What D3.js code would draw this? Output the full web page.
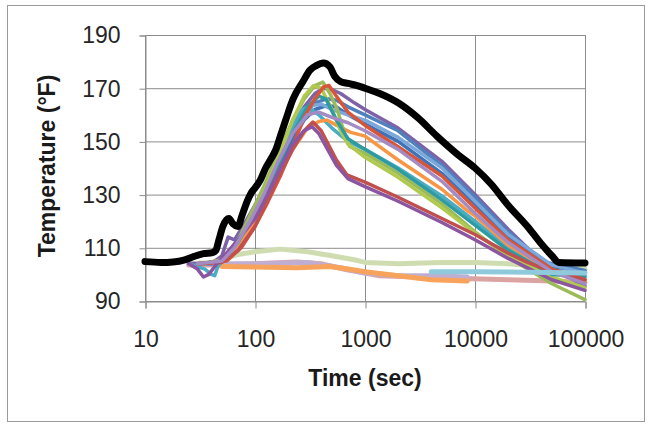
<!DOCTYPE html>
<html>
<head>
<meta charset="utf-8">
<script src="https://cdn.jsdelivr.net/npm/d3@7"></script>
<style>
  body { margin: 0; background: #fff; }
  svg { display: block; }
  text { font-family: "Liberation Sans", Arial, sans-serif; }
</style>
</head>
<body>
<svg id="vis" width="650" height="425"></svg>
<script>
// axis ticks
const xTicks = [10, 100, 1000, 10000, 100000]
const yTicks = [90, 110, 130, 150, 170, 190]

// [time (sec), temperature (F)]
const black = [[10,104.8],[14,104.5],[18,104.7],[23,105.5],[28,106.8],[34,107.8],[41,108.2],[44,109],[47,113],[51,118],[55,120.5],[58,121],[63,119],[70,118],[76,122],[84,127],[92,130.5],[100,132.5],[112,135.5],[125,140],[140,143.5],[155,147],[170,152],[190,158],[222,166],[273,172.5],[316,176.8],[360,178.5],[420,179.5],[480,178],[530,174.5],[600,172.5],[700,171.8],[850,171],[1000,170],[1360,168],[2000,164.5],[3000,159],[4500,152],[7000,145],[10000,140],[14000,134],[20000,126],[30000,118],[40000,111.5],[50000,107],[58000,104.5],[100000,104.3]]

const purpleTop = [[25,104],[40,104],[50,107],[57,114],[65,113],[80,119],[100,126],[130,135],[170,145],[220,155],[280,163],[350,168],[420,170],[500,169.5],[600,168],[800,164.5],[1000,162],[2000,155],[5000,142.5],[10000,130],[20000,117],[40000,105],[100000,95.5]]
const blue1 = [[30,104],[45,104],[60,109],[80,117],[100,124],[130,133],[170,143],[220,153],[280,160],[350,164.5],[450,166],[550,165.5],[700,163],[1000,160],[2000,154],[5000,141],[10000,129],[20000,116],[40000,105],[100000,101.5]]
const blue2 = [[30,104],[45,104.5],[60,108],[80,116],[100,123],[130,132],[170,142],[220,151],[280,158],[350,162],[450,163.5],[550,163],[700,160],[1000,156.5],[2000,150],[5000,138],[10000,126],[20000,114],[50000,103],[100000,101]]
const lightBlue = [[30,104],[50,104.5],[65,110],[90,120],[120,130],[160,141],[220,154],[280,161],[330,163.5],[400,164],[500,162],[700,160],[1000,158],[2000,151.5],[5000,140],[10000,127.5],[20000,115],[50000,103.5],[100000,100.5]]
const aqua = [[25,104],[35,102],[40,100],[43,99.5],[46,103],[55,107],[70,113],[100,124],[130,133],[170,145],[220,156],[270,162],[300,163],[380,160],[500,155],[700,150],[1000,147],[2000,140],[5000,129.5],[10000,120],[20000,110],[50000,101],[100000,99.5]]
const orange = [[30,104],[50,104.5],[70,110],[100,120],[130,129],[170,138],[220,147],[300,155],[380,157.5],[450,158],[730,153.5],[1000,152],[2000,143],[5000,132],[8500,124],[10000,122],[20000,111],[50000,101],[100000,97]]
const green1 = [[30,104],[50,105],[65,110],[90,122],[120,133],[160,145],[220,158],[280,166],[350,171],[414,172.3],[480,168],[560,162],[650,153],[730,148],[1000,145.5],[2000,138],[5000,126.5],[10000,116],[20000,106.5],[50000,96.5],[100000,90.5]]
const green2 = [[35,104],[55,106],[70,112],[100,123],[130,134],[170,146],[220,158],[280,167],[340,171],[400,170],[500,162],[600,154],[700,149],[1000,144],[2000,136.5],[5000,125],[10000,115.5],[20000,107],[50000,99],[100000,95]]
const teal = [[30,104],[50,105],[70,112],[100,123],[130,132],[170,143],[220,153],[300,163],[380,167],[440,166],[550,158],[700,151],[1000,147],[2000,139.5],[5000,128],[10000,118.5],[20000,109],[50000,100],[100000,99]]
const redOrange = [[30,104],[55,105],[75,110],[100,118],[130,127],[170,137],[220,148],[280,159],[350,166],[420,170.5],[470,171],[550,167],[700,161],[1000,156],[2000,148],[5000,137],[10000,125],[20000,113],[50000,102],[100000,98]]
const red = [[30,104],[50,104.5],[70,109],[100,118],[130,128],[170,138],[220,147],[280,154],[336,157.3],[400,154],[550,143],[685,137.4],[1000,134.7],[2000,129],[5000,121],[10000,115],[20000,108],[30000,104.5],[50000,101],[100000,98]]
const purple = [[25,104],[30,102],[34,99],[38,100],[45,104],[55,108],[70,113],[100,121],[130,130],[170,140],[220,149],[280,154],[330,155.5],[380,153],[550,141],[700,136],[1000,133],[2000,127.5],[5000,119.5],[10000,113],[20000,106],[50000,98],[100000,94]]
const violet = [[30,104],[50,105],[65,110],[90,120],[120,130],[160,142],[220,153],[300,160],[380,161],[500,159],[700,157],[1000,154],[2000,147],[5000,135],[10000,123],[20000,112],[50000,101],[100000,96.5]]

const paleGreen = [[25,104],[40,104.5],[50,105.5],[70,107.5],[100,108.5],[170,109.5],[300,108.5],[500,107],[800,105.5],[1000,104.5],[2000,104],[5000,104.5],[10000,104.5],[20000,104],[40000,103],[100000,102]]
const pink = [[25,103.5],[50,103.5],[100,104],[240,104.7],[400,104],[685,101.7],[1000,100.5],[1360,99.5],[3000,99],[8000,98.5],[20000,98],[50000,97.5],[100000,97]]
const lavender = [[25,104],[100,104],[300,104.5],[600,102.5],[1000,100.5],[2000,99.5],[4000,99.5],[8500,99]]
const orangeLow = [[50,103],[100,102.8],[240,102.5],[480,103],[700,102],[1000,101],[2000,99.5],[4000,98],[8500,97.5]]
const skyBlue = [[4000,101],[10000,101],[30000,100.8],[100000,100.5]]

const upperSeries = [purpleTop, blue1, blue2, lightBlue, aqua, orange, green1, green2, teal, redOrange, red, purple, violet]
const upperColors = ["#7e62a8", "#4f81bd", "#3e73b8", "#7ba7da", "#4bacc6", "#f79646", "#9bbb59", "#b2c94f", "#2e9ba0", "#d9553a", "#c0504d", "#8b55a0", "#a38bc4"]
const lowerSeries = [paleGreen, pink, lavender, orangeLow]
const lowerColors = ["#cfdcb0", "#dca3a3", "#bfaed2", "#f8a35c"]

const vis = d3.select("#vis")

// chart area frame
vis.append("rect").attr("x", 7.5).attr("y", 5.5).attr("width", 637).attr("height", 416)
  .attr("fill", "#fff").attr("stroke", "#9a9a9a")

const xScale = d3.scaleLog().domain([10, 100000]).range([145, 585])
const yScale = d3.scaleLinear().domain([90, 190]).range([301, 35])

// gridlines
vis.append("g").selectAll("line").data(yTicks).enter().append("line")
  .attr("x1", 145).attr("x2", 585)
  .attr("y1", d => yScale(d) + 0.5).attr("y2", d => yScale(d) + 0.5)
  .attr("stroke", "#8c8c8c")
vis.append("g").selectAll("line").data(xTicks).enter().append("line")
  .attr("x1", d => xScale(d) + 0.5).attr("x2", d => xScale(d) + 0.5)
  .attr("y1", 35).attr("y2", 301)
  .attr("stroke", "#8c8c8c")

// axes
const yAxis = d3.axisLeft(yScale).tickValues(yTicks).tickSize(6).tickPadding(19).tickFormat(d3.format("d"))
const xAxis = d3.axisBottom(xScale).tickValues(xTicks).tickSize(7).tickPadding(22).tickFormat(d3.format("d"))

const gy = vis.append("g").attr("transform", "translate(145.5,0.5)").call(yAxis)
const gx = vis.append("g").attr("transform", "translate(0.5,301.5)").call(xAxis)
for (const g of [gx, gy]) {
  g.select(".domain").attr("stroke", "#8c8c8c")
  g.selectAll(".tick line").attr("stroke", "#8c8c8c")
  g.selectAll(".tick text").attr("font-size", 23).attr("fill", "#262626")
    .attr("font-family", "Liberation Sans, Arial, sans-serif")
}

// axis titles
vis.append("text").attr("x", 365).attr("y", 386).attr("text-anchor", "middle")
  .attr("font-size", 23).attr("font-weight", "bold").attr("fill", "#1a1a1a")
  .text("Time (sec)")
vis.append("text").attr("transform", "translate(55,166) rotate(-90)").attr("text-anchor", "middle")
  .attr("font-size", 23).attr("font-weight", "bold").attr("fill", "#1a1a1a")
  .text("Temperature (°F)")

// lines
const line = d3.line().x(d => xScale(d[0])).y(d => yScale(d[1]))
const smooth = d3.line().x(d => xScale(d[0])).y(d => yScale(d[1])).curve(d3.curveMonotoneX)

const plot = vis.append("g").attr("fill", "none").attr("stroke-linejoin", "round").attr("stroke-linecap", "round")

plot.selectAll(".low").data(lowerSeries).enter().append("path")
  .attr("class", "low")
  .attr("d", line)
  .attr("stroke", (d, i) => lowerColors[i])
  .attr("stroke-width", 5)

plot.selectAll(".up").data(upperSeries).enter().append("path")
  .attr("class", "up")
  .attr("d", line)
  .attr("stroke", (d, i) => upperColors[i])
  .attr("stroke-width", 3.5)

plot.append("path").datum(skyBlue).attr("d", line)
  .attr("stroke", "#8fc9dc").attr("stroke-width", 5)

plot.append("path").datum(black).attr("d", smooth)
  .attr("stroke", "#000").attr("stroke-width", 7)
</script>
</body>
</html>
